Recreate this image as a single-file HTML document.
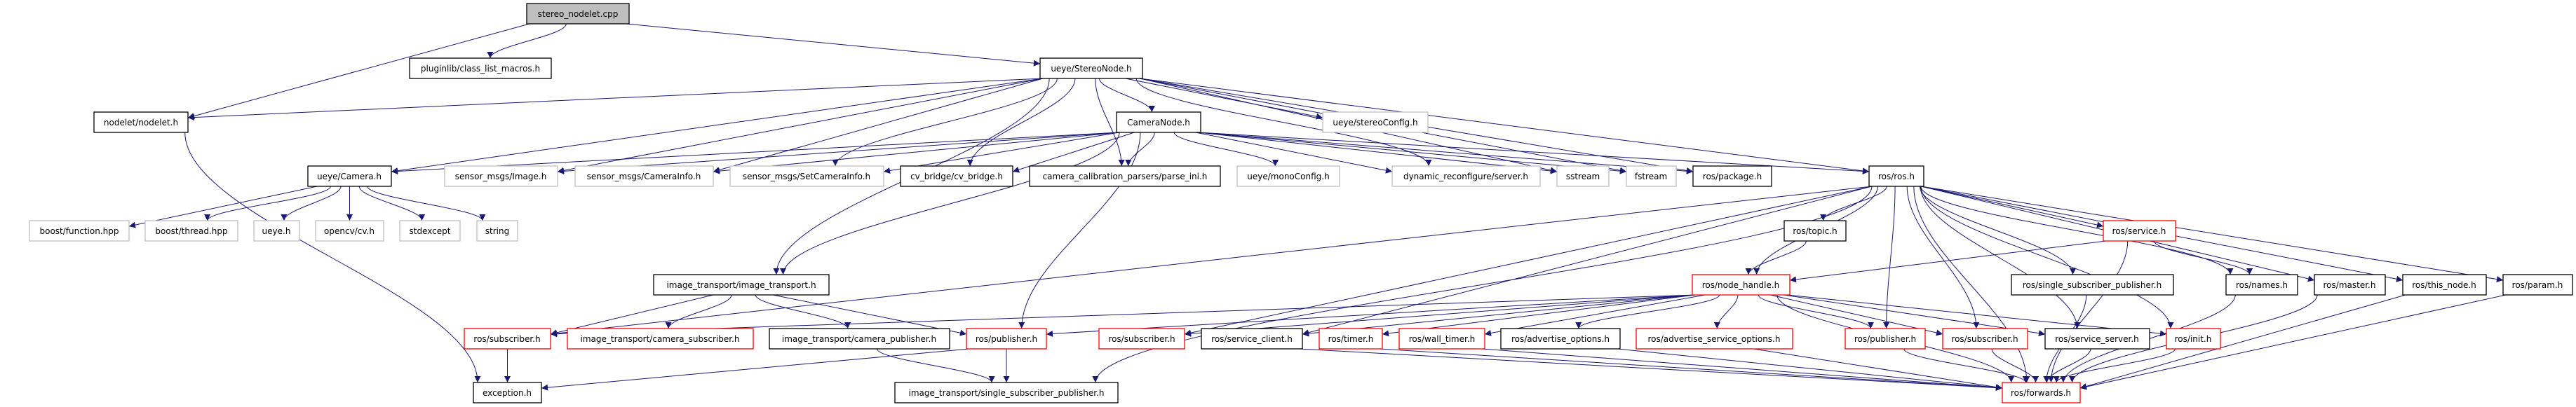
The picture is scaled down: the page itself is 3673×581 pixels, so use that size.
<!DOCTYPE html>
<html><head><meta charset="utf-8"><style>
html,body{margin:0;padding:0;background:#fff;}
svg{display:block;}
text{font-family:"DejaVu Sans","Liberation Sans",sans-serif;font-size:12px;fill:#000;}
</style></head><body>
<svg id="g" width="3673" height="581" viewBox="0 0 3673 581" xmlns="http://www.w3.org/2000/svg">
<defs><marker id="a" viewBox="0 0 10 10" refX="10" refY="5" markerWidth="11" markerHeight="9" markerUnits="userSpaceOnUse" orient="auto"><path d="M0,0 L10,5 L0,10 z" fill="#191970"/></marker></defs>
<g id="edges" fill="none" stroke="#191970" stroke-width="1"></g>
<g id="nodes" stroke-width="1.3">
<rect x="751" y="5" width="146" height="29" fill="#bfbfbf" stroke="#000"/><text x="824" y="24" text-anchor="middle">stereo_nodelet.cpp</text>
<rect x="584" y="83" width="202" height="29" fill="#fff" stroke="#000"/><text x="685" y="102" text-anchor="middle">pluginlib/class_list_macros.h</text>
<rect x="1483" y="83" width="146" height="29" fill="#fff" stroke="#000"/><text x="1556" y="102" text-anchor="middle">ueye/StereoNode.h</text>
<rect x="134" y="160" width="134" height="29" fill="#fff" stroke="#000"/><text x="201" y="179" text-anchor="middle">nodelet/nodelet.h</text>
<rect x="1592" y="160" width="120" height="29" fill="#fff" stroke="#000"/><text x="1652" y="179" text-anchor="middle">CameraNode.h</text>
<rect x="1886" y="160" width="150" height="29" fill="#fff" stroke="#bfbfbf"/><text x="1961" y="179" text-anchor="middle">ueye/stereoConfig.h</text>
<rect x="439" y="237" width="119" height="29" fill="#fff" stroke="#000"/><text x="498" y="256" text-anchor="middle">ueye/Camera.h</text>
<rect x="634" y="237" width="161" height="29" fill="#fff" stroke="#bfbfbf"/><text x="714" y="256" text-anchor="middle">sensor_msgs/Image.h</text>
<rect x="820" y="237" width="197" height="29" fill="#fff" stroke="#bfbfbf"/><text x="918" y="256" text-anchor="middle">sensor_msgs/CameraInfo.h</text>
<rect x="1041" y="237" width="219" height="29" fill="#fff" stroke="#bfbfbf"/><text x="1150" y="256" text-anchor="middle">sensor_msgs/SetCameraInfo.h</text>
<rect x="1284" y="237" width="160" height="29" fill="#fff" stroke="#000"/><text x="1364" y="256" text-anchor="middle">cv_bridge/cv_bridge.h</text>
<rect x="1468" y="237" width="272" height="29" fill="#fff" stroke="#000"/><text x="1604" y="256" text-anchor="middle">camera_calibration_parsers/parse_ini.h</text>
<rect x="1764" y="237" width="146" height="29" fill="#fff" stroke="#bfbfbf"/><text x="1837" y="256" text-anchor="middle">ueye/monoConfig.h</text>
<rect x="1985" y="237" width="211" height="29" fill="#fff" stroke="#bfbfbf"/><text x="2090" y="256" text-anchor="middle">dynamic_reconfigure/server.h</text>
<rect x="2220" y="237" width="74" height="29" fill="#fff" stroke="#bfbfbf"/><text x="2257" y="256" text-anchor="middle">sstream</text>
<rect x="2319" y="237" width="71" height="29" fill="#fff" stroke="#bfbfbf"/><text x="2354" y="256" text-anchor="middle">fstream</text>
<rect x="2414" y="237" width="112" height="29" fill="#fff" stroke="#000"/><text x="2470" y="256" text-anchor="middle">ros/package.h</text>
<rect x="2665" y="237" width="78" height="29" fill="#fff" stroke="#000"/><text x="2704" y="256" text-anchor="middle">ros/ros.h</text>
<rect x="42" y="315" width="142" height="29" fill="#fff" stroke="#bfbfbf"/><text x="113" y="334" text-anchor="middle">boost/function.hpp</text>
<rect x="207" y="315" width="132" height="29" fill="#fff" stroke="#bfbfbf"/><text x="273" y="334" text-anchor="middle">boost/thread.hpp</text>
<rect x="362" y="315" width="65" height="29" fill="#fff" stroke="#bfbfbf"/><text x="394" y="334" text-anchor="middle">ueye.h</text>
<rect x="450" y="315" width="97" height="29" fill="#fff" stroke="#bfbfbf"/><text x="498" y="334" text-anchor="middle">opencv/cv.h</text>
<rect x="570" y="315" width="86" height="29" fill="#fff" stroke="#bfbfbf"/><text x="613" y="334" text-anchor="middle">stdexcept</text>
<rect x="680" y="315" width="58" height="29" fill="#fff" stroke="#bfbfbf"/><text x="709" y="334" text-anchor="middle">string</text>
<rect x="2544" y="315" width="88" height="29" fill="#fff" stroke="#000"/><text x="2588" y="334" text-anchor="middle">ros/topic.h</text>
<rect x="2999" y="315" width="103" height="29" fill="#fff" stroke="#ff0000"/><text x="3050" y="334" text-anchor="middle">ros/service.h</text>
<rect x="932" y="392" width="250" height="29" fill="#fff" stroke="#000"/><text x="1057" y="411" text-anchor="middle">image_transport/image_transport.h</text>
<rect x="2413" y="392" width="139" height="29" fill="#fff" stroke="#ff0000"/><text x="2482" y="411" text-anchor="middle">ros/node_handle.h</text>
<rect x="2868" y="392" width="231" height="29" fill="#fff" stroke="#000"/><text x="2983" y="411" text-anchor="middle">ros/single_subscriber_publisher.h</text>
<rect x="3174" y="392" width="102" height="29" fill="#fff" stroke="#000"/><text x="3225" y="411" text-anchor="middle">ros/names.h</text>
<rect x="3300" y="392" width="101" height="29" fill="#fff" stroke="#000"/><text x="3350" y="411" text-anchor="middle">ros/master.h</text>
<rect x="3426" y="392" width="119" height="29" fill="#fff" stroke="#000"/><text x="3485" y="411" text-anchor="middle">ros/this_node.h</text>
<rect x="3569" y="392" width="99" height="29" fill="#fff" stroke="#000"/><text x="3618" y="411" text-anchor="middle">ros/param.h</text>
<rect x="662" y="469" width="123" height="29" fill="#fff" stroke="#ff0000"/><text x="723" y="488" text-anchor="middle">ros/subscriber.h</text>
<rect x="809" y="469" width="265" height="29" fill="#fff" stroke="#ff0000"/><text x="941" y="488" text-anchor="middle">image_transport/camera_subscriber.h</text>
<rect x="1097" y="469" width="257" height="29" fill="#fff" stroke="#000"/><text x="1225" y="488" text-anchor="middle">image_transport/camera_publisher.h</text>
<rect x="1378" y="469" width="114" height="29" fill="#fff" stroke="#ff0000"/><text x="1435" y="488" text-anchor="middle">ros/publisher.h</text>
<rect x="1567" y="469" width="122" height="29" fill="#fff" stroke="#ff0000"/><text x="1628" y="488" text-anchor="middle">ros/subscriber.h</text>
<rect x="1713" y="469" width="144" height="29" fill="#fff" stroke="#000"/><text x="1785" y="488" text-anchor="middle">ros/service_client.h</text>
<rect x="1881" y="469" width="90" height="29" fill="#fff" stroke="#ff0000"/><text x="1926" y="488" text-anchor="middle">ros/timer.h</text>
<rect x="1995" y="469" width="122" height="29" fill="#fff" stroke="#ff0000"/><text x="2056" y="488" text-anchor="middle">ros/wall_timer.h</text>
<rect x="2140" y="469" width="170" height="29" fill="#fff" stroke="#000"/><text x="2225" y="488" text-anchor="middle">ros/advertise_options.h</text>
<rect x="2333" y="469" width="223" height="29" fill="#fff" stroke="#ff0000"/><text x="2444" y="488" text-anchor="middle">ros/advertise_service_options.h</text>
<rect x="2631" y="469" width="114" height="29" fill="#fff" stroke="#ff0000"/><text x="2688" y="488" text-anchor="middle">ros/publisher.h</text>
<rect x="2770" y="469" width="121" height="29" fill="#fff" stroke="#ff0000"/><text x="2830" y="488" text-anchor="middle">ros/subscriber.h</text>
<rect x="2916" y="469" width="149" height="29" fill="#fff" stroke="#000"/><text x="2990" y="488" text-anchor="middle">ros/service_server.h</text>
<rect x="3089" y="469" width="77" height="29" fill="#fff" stroke="#ff0000"/><text x="3127" y="488" text-anchor="middle">ros/init.h</text>
<rect x="675" y="546" width="97" height="29" fill="#fff" stroke="#000"/><text x="723" y="565" text-anchor="middle">exception.h</text>
<rect x="1276" y="546" width="318" height="29" fill="#fff" stroke="#000"/><text x="1435" y="565" text-anchor="middle">image_transport/single_subscriber_publisher.h</text>
<rect x="2855" y="546" width="111" height="29" fill="#fff" stroke="#ff0000"/><text x="2910" y="565" text-anchor="middle">ros/forwards.h</text>
</g>
</svg>
<script>
(function(){
var R=[5,83,160,237,315,392,469,546];
var N={
sn:[751,897,0],pl:[584,786,1],st:[1483,1629,1],nd:[134,268,2],cn:[1592,1712,2],sc:[1886,2036,2],
ca:[439,558,3],im:[634,795,3],ci:[820,1017,3],sci:[1041,1260,3],cv:[1284,1444,3],pi:[1468,1740,3],mc:[1764,1910,3],dr:[1985,2196,3],ss:[2220,2294,3],fs:[2319,2390,3],pk:[2414,2526,3],ros:[2665,2743,3],
bf:[42,184,4],bt:[207,339,4],ue:[362,427,4],ocv:[450,547,4],se:[570,656,4],str:[680,738,4],tp:[2544,2632,4],sv:[2999,3102,4],
it:[932,1182,5],nh:[2413,2552,5],ssp:[2868,3099,5],nm:[3174,3276,5],ms:[3300,3401,5],tn:[3426,3545,5],pa:[3569,3668,5],
rs1:[662,785,6],csub:[809,1074,6],cpub:[1097,1354,6],rp1:[1378,1492,6],rs2:[1567,1689,6],scl:[1713,1857,6],tm:[1881,1971,6],wt:[1995,2117,6],ao:[2140,2310,6],aso:[2333,2556,6],rp2:[2631,2745,6],rs3:[2770,2891,6],ssv:[2916,3065,6],ini:[3089,3166,6],
ex:[675,772,7],isp:[1276,1594,7],fw:[2855,2966,7]};
var E=[['sn','pl'],['sn','nd'],['sn','st'],['nd','ex'],
['st','nd'],['st','ca'],['st','im'],['st','ci'],['st','sci'],['st','cv'],['st','pi'],['st','cn'],['st','sc'],['st','dr'],['st','ss'],['st','fs'],['st','pk'],['st','ros'],['st','it'],
['cn','ca'],['cn','im'],['cn','ci'],['cn','sci'],['cn','cv'],['cn','pi'],['cn','mc'],['cn','dr'],['cn','ss'],['cn','fs'],['cn','pk'],['cn','ros'],['cn','it'],['cn','rp1'],
['ca','bf'],['ca','bt'],['ca','ue'],['ca','ocv'],['ca','se'],['ca','str'],
['ros','rs1'],['ros','isp'],['ros','scl'],['ros','tp'],['ros','nh'],['ros','rp2'],['ros','rs3'],['ros','ssv'],['ros','ini'],['ros','sv'],['ros','ssp'],['ros','nm'],['ros','ms'],['ros','tn'],['ros','pa'],['ros','fw'],['ros','rs2'],
['it','rs1'],['it','csub'],['it','cpub'],['it','rp1'],['cpub','isp'],['rp1','ex'],['rp1','isp'],['rs1','ex'],
['tp','nh'],['nh','rs1'],['nh','rp1'],['nh','rs2'],['nh','scl'],['nh','tm'],['nh','wt'],['nh','ao'],['nh','aso'],['nh','rp2'],['nh','rs3'],['nh','ssv'],['nh','ini'],['nh','fw'],
['sv','nh'],['sv','nm'],['sv','fw'],
['scl','fw'],['tm','fw'],['wt','fw'],['ao','fw'],['aso','fw'],['rp2','fw'],['rs3','fw'],['ssv','fw'],['ini','fw'],['ssp','fw'],['nm','fw'],['ms','fw'],['tn','fw'],['pa','fw']];
var g=document.getElementById('edges'),s='';
E.forEach(function(e){
var a=N[e[0]],b=N[e[1]];
var ac=(a[0]+a[1])/2,bc=(b[0]+b[1])/2,hw=(a[1]-a[0])/2-4;
var sx=ac+Math.max(-hw,Math.min(hw,(bc-ac)*0.12));
var sy=R[a[2]]+29,tx,ty;
var dy=R[b[2]]-sy;
if(Math.abs(bc-ac)-(b[1]-b[0])/2>4*dy){
 tx=bc<ac?b[1]:b[0];ty=R[b[2]]+8;
 s+='<path d="M'+sx+','+sy+' L'+tx+','+ty+'" marker-end="url(#a)"/>';
}else{
 var hb=(b[1]-b[0])/2-6;
 tx=bc+Math.max(-hb,Math.min(hb,(ac-bc)*0.1));ty=R[b[2]];
 s+='<path d="M'+sx+','+sy+' C'+sx+','+(sy+dy*0.35)+' '+tx+','+(ty-dy*0.35)+' '+tx+','+ty+'" marker-end="url(#a)"/>';
}
});
g.innerHTML=s;
})();
</script>
</body></html>
